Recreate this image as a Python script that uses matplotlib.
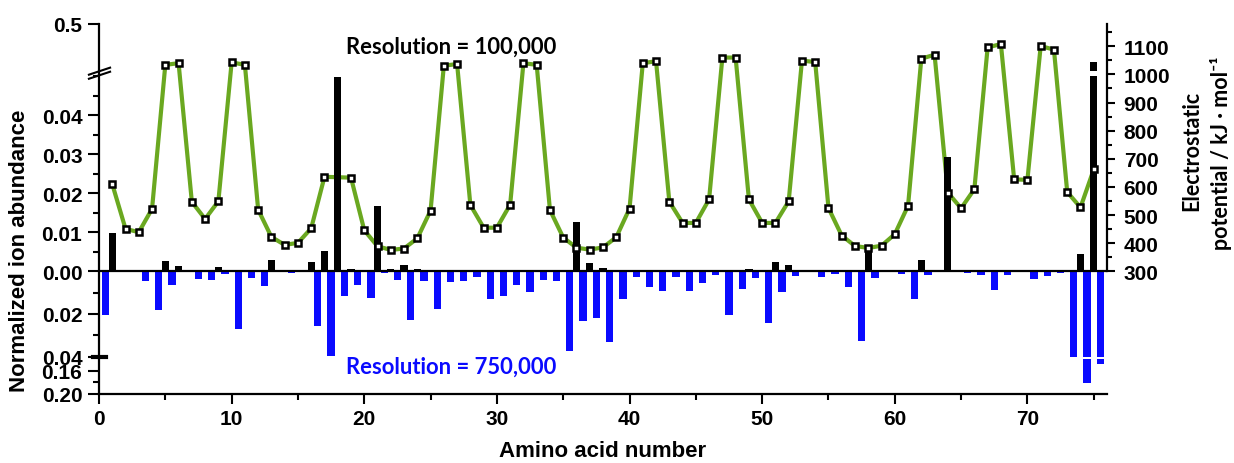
import numpy as np
import matplotlib
matplotlib.use("Agg")
import matplotlib.pyplot as plt

plt.rcParams['font.family'] = ['Liberation Sans', 'DejaVu Sans']
plt.rcParams['font.weight'] = 'bold'

# ---- data ----
# Resolution = 100,000 (black bars, plotted upward), residues 1..75
residues = np.arange(1, 76)
ions_100k = [0.0099, 0, 0, 0, 0.0027, 0.0014, 0, 0, 0.0012, 0,
             0, 0, 0.0029, 0, 0, 0.0024, 0.0052, 0.0498, 0.0007, 0,
             0.0168, 0.0006, 0.0015, 0.0007, 0, 0, 0, 0, 0, 0,
             0, 0, 0, 0, 0, 0.0126, 0.0022, 0.0008, 0, 0,
             0, 0, 0, 0, 0, 0, 0, 0, 0.0007, 0,
             0.0025, 0.0016, 0, 0, 0, 0, 0, 0.0060, 0, 0,
             0, 0.0029, 0, 0.0294, 0, 0, 0, 0, 0, 0,
             0, 0, 0, 0.0044, 0.176]

# Resolution = 750,000 (blue bars, plotted downward), sites 0.5..75.5
sites = np.arange(0, 76) + 0.5
ions_750k = [0.0204, 0, 0, 0.0044, 0.0182, 0.0063, 0, 0.0038, 0.0042, 0.0013,
             0.0273, 0.0030, 0.0069, 0, 0.0006, 0, 0.0256, 0.0399, 0.0118, 0.0066,
             0.0124, 0.0008, 0.0039, 0.0229, 0.0046, 0.0177, 0.0052, 0.0047, 0.0025, 0.0129,
             0.0116, 0.0064, 0.0097, 0.0039, 0.0047, 0.0372, 0.0234, 0.0218, 0.0333, 0.0129,
             0.0025, 0.0075, 0.0093, 0.0027, 0.0093, 0.0053, 0.0017, 0.0204, 0.0085, 0.0031,
             0.0245, 0.0099, 0.0020, 0, 0.0028, 0.0014, 0.0074, 0.0327, 0.0033, 0,
             0.0011, 0.0130, 0.0019, 0, 0, 0.0006, 0.0019, 0.0086, 0.0017, 0,
             0.0035, 0.0024, 0.0009, 0.0400, 0.1816, 0.1485]

# electrostatic potential (kJ/mol), no point visible at residue 18
pot_residues = list(range(1, 18)) + list(range(19, 76))
potential = [610, 451, 439, 522, 1034, 1040, 547, 486, 549, 1043,
             1034, 519, 422, 394, 401, 453, 636, 633, 446,
             389, 376, 381, 417, 516, 1031, 1037, 536, 455, 455,
             537, 1040, 1034, 518, 420, 384, 377, 385, 421, 523,
             1040, 1047, 548, 472, 472, 556, 1060, 1060, 556, 472,
             472, 549, 1049, 1044, 525, 427, 390, 383, 391, 432,
             533, 1056, 1070, 580, 524, 592, 1096, 1108, 627, 625,
             1101, 1088, 582, 527, 662]

# broken axis: piecewise linear scale for the abundance axis
brk_v = [-0.20, -0.14, -0.04, 0.0, 0.05, 0.10, 0.50]
brk_u = [0.0, 35.0, 37.5, 122.7, 317.7, 323.0, 370.0]


def fwd(v):
    return np.interp(v, brk_v, brk_u)


def inv(u):
    return np.interp(u, brk_u, brk_v)


green = '#6aa820'
blue = '#0a0aff'

fig = plt.figure(figsize=(12.34, 4.64), dpi=100)
ax = fig.add_axes([99 / 1234, 69 / 464, 1008 / 1234, 370 / 464])
ax2 = ax.twinx()
ax.set_zorder(ax2.get_zorder() + 1)
ax.patch.set_visible(False)

ax.set_yscale('function', functions=(fwd, inv))
ax.set_ylim(-0.20, 0.50)
ax.set_xlim(0, 76)

ab = np.array(ions_100k)
w = 0.55
ax.bar(residues, np.minimum(ab, 0.05), width=w, color='black', zorder=2)
big = ab > 0.10
ax.bar(residues[big], ab[big] - 0.10, bottom=0.10, width=w, color='black', zorder=2)

m = np.array(ions_750k)
ax.bar(sites, -np.minimum(m, 0.04), width=w, color=blue, zorder=2)
big = m > 0.14
ax.bar(sites[big], -(m[big] - 0.14), bottom=-0.14, width=w, color=blue, zorder=2)

ax.axhline(0, color='black', lw=1.6, zorder=4)

# potential line below the bars, markers above
ax2.set_ylim(-136.3, 1179.3)
ax2.plot(pot_residues, potential, color=green, lw=3.0, zorder=1)
ax.plot(pot_residues, potential, ls='none', marker='s', ms=4.8, mew=1.8,
        mfc='white', mec='black', transform=ax2.transData, zorder=5, clip_on=False)

# left axis ticks
ax.set_yticks([-0.20, -0.16, -0.04, -0.02, 0.0, 0.01, 0.02, 0.03, 0.04, 0.5],
              ['0.20', '0.16', '0.04', '0.02', '0.00', '0.01', '0.02', '0.03', '0.04', '0.5'])
ax.set_yticks([-0.18, -0.03, -0.01, 0.005, 0.015, 0.025, 0.035, 0.045, 0.05], minor=True)
ax.set_xticks(np.arange(0, 71, 10))
ax.set_xticks(np.arange(5, 76, 10), minor=True)

for s in ['top', 'right']:
    ax.spines[s].set_visible(False)
for s in ['left', 'bottom']:
    ax.spines[s].set_linewidth(1.6)
for s in ['top', 'left', 'bottom']:
    ax2.spines[s].set_visible(False)
ax2.spines['right'].set_linewidth(1.6)
ax2.spines['right'].set_bounds(300, 1179.3)

ax.tick_params(axis='y', which='major', direction='out', length=8, width=1.5, pad=4, labelsize=15)
ax.tick_params(axis='y', which='minor', direction='out', length=4, width=1.5)
ax.tick_params(axis='x', which='major', direction='out', length=7, width=1.5, pad=4, labelsize=15)
ax.tick_params(axis='x', which='minor', direction='out', length=4, width=1.5)

ax2.set_yticks(np.arange(300, 1101, 100))
ax2.set_yticks(np.arange(350, 1151, 100), minor=True)
ax2.tick_params(axis='y', which='major', direction='out', length=6, width=1.5, pad=6, labelsize=15)
ax2.tick_params(axis='y', which='minor', direction='out', length=3.5, width=1.5)

# break marks on the left axis
for dy in (0.0, 0.011):
    ax.plot([-0.010, 0.011], [0.852 + dy, 0.871 + dy], color='black', lw=1.5,
            transform=ax.transAxes, clip_on=False, zorder=6)
ax.plot([-0.006, 0.007], [0.1005, 0.1005], color='black', lw=3,
        transform=ax.transAxes, clip_on=False, zorder=6)

# labels
fig.text(603 / 1234, 1 - 452 / 464, 'Amino acid number', ha='center', va='center', fontsize=16)
fig.text(20 / 1234, 1 - 251 / 464, 'Normalized ion abundance', ha='center', va='center',
         rotation=90, fontsize=16)
fig.text(1192 / 1234, 1 - 151 / 464, 'Electrostatic', ha='center', va='center',
         rotation=90, fontsize=15.5, family=['Lato', 'DejaVu Sans'])
fig.text(1221 / 1234, 1 - 153 / 464, 'potential / kJ \u00b7 mol\u207b\u00b9', ha='center', va='center',
         rotation=90, fontsize=15.5, family=['Lato', 'DejaVu Sans'])
fig.text(451 / 1234, 1 - 47 / 464, 'Resolution = 100,000', ha='center', va='center',
         fontsize=15.8, color='black', family=['Lato', 'DejaVu Sans'])
fig.text(451 / 1234, 1 - 367 / 464, 'Resolution = 750,000', ha='center', va='center',
         fontsize=15.8, color=blue, family=['Lato', 'DejaVu Sans'])

fig.savefig('out.png', dpi=100)
